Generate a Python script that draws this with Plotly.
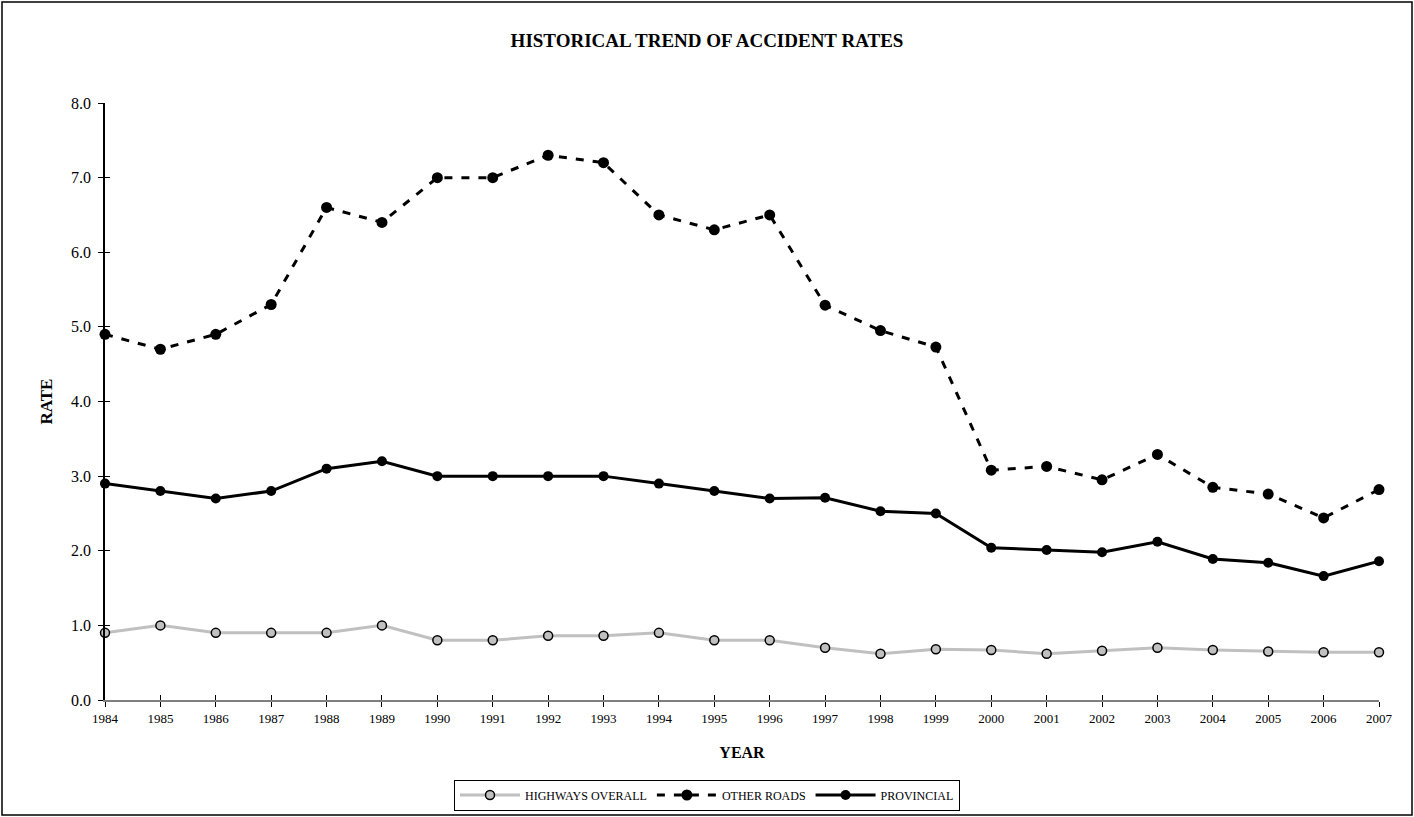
import plotly.graph_objects as go

years = list(range(1984, 2008))
highways_overall = [0.90, 1.00, 0.90, 0.90, 0.90, 1.00, 0.80, 0.80, 0.86, 0.86, 0.90, 0.80,
                    0.80, 0.70, 0.62, 0.68, 0.67, 0.62, 0.66, 0.70, 0.67, 0.65, 0.64, 0.64]
other_roads = [4.9, 4.7, 4.9, 5.3, 6.6, 6.4, 7.0, 7.0, 7.3, 7.2, 6.5, 6.3,
               6.5, 5.29, 4.95, 4.73, 3.08, 3.13, 2.95, 3.29, 2.85, 2.76, 2.44, 2.82]
provincial = [2.9, 2.8, 2.7, 2.8, 3.1, 3.2, 3.0, 3.0, 3.0, 3.0, 2.9, 2.8,
              2.7, 2.71, 2.53, 2.50, 2.04, 2.01, 1.98, 2.12, 1.89, 1.84, 1.66, 1.86]
y_ticks = [0, 1, 2, 3, 4, 5, 6, 7, 8]

FONT = "Liberation Serif, Times New Roman, serif"

fig = go.Figure()
fig.add_trace(go.Scatter(
    x=years, y=highways_overall, name="HIGHWAYS OVERALL", mode="lines+markers",
    line=dict(color="#c0c0c0", width=3),
    marker=dict(size=9, color="#c0c0c0", line=dict(color="black", width=1.5)),
    cliponaxis=False))
fig.add_trace(go.Scatter(
    x=years, y=other_roads, name="OTHER ROADS", mode="lines+markers",
    line=dict(color="black", width=3, dash="8px,9px"),
    marker=dict(size=11, color="black"),
    cliponaxis=False))
fig.add_trace(go.Scatter(
    x=years, y=provincial, name="PROVINCIAL", mode="lines+markers",
    line=dict(color="black", width=3),
    marker=dict(size=10, color="black"),
    cliponaxis=False))
# invisible helper trace so the overlay axes (inner half of the crossing ticks) are drawn
fig.add_trace(go.Scatter(x=years, y=provincial, mode="none", showlegend=False,
                         hoverinfo="skip", xaxis="x2", yaxis="y2"))

fig.update_layout(
    width=1414, height=817,
    paper_bgcolor="white", plot_bgcolor="white",
    margin=dict(l=105, r=35, t=103, b=117, autoexpand=False),
    font=dict(family=FONT, size=12, color="black"),
    title=dict(text="<b>HISTORICAL TREND OF ACCIDENT RATES</b>", x=0.5, xanchor="center",
               y=1 - 40 / 817, yanchor="middle", font=dict(family=FONT, size=19, color="black")),
    xaxis=dict(range=[1984, 2007], tickmode="array", tickvals=years, ticktext=[str(y) for y in years],
               showgrid=False, zeroline=False, showline=True, linecolor="#7f7f7f", linewidth=2,
               ticks="outside", ticklen=5, tickcolor="black", tickwidth=1, automargin=False,
               tickfont=dict(family=FONT, size=13, color="black"),
               title=dict(text="<b>YEAR</b>", font=dict(family=FONT, size=16, color="black"), standoff=22)),
    yaxis=dict(range=[0, 8], tickmode="array", tickvals=y_ticks, tickformat=".1f",
               showgrid=False, zeroline=False, showline=True, linecolor="black", linewidth=1.5,
               ticks="outside", ticklen=5, tickcolor="black", tickwidth=1, ticklabelstandoff=4,
               automargin=False,
               tickfont=dict(family=FONT, size=16, color="black"),
               title=dict(text="<b>RATE</b>", font=dict(family=FONT, size=17, color="black"), standoff=14)),
    xaxis2=dict(overlaying="x", matches="x", range=[1984, 2007], tickmode="array", tickvals=years,
                showticklabels=False, showgrid=False, zeroline=False, showline=False,
                ticks="inside", ticklen=5, tickcolor="black", tickwidth=1, side="bottom"),
    yaxis2=dict(overlaying="y", matches="y", range=[0, 8], tickmode="array", tickvals=y_ticks,
                showticklabels=False, showgrid=False, zeroline=False, showline=False,
                ticks="inside", ticklen=5, tickcolor="black", tickwidth=1, side="left"),
    legend=dict(orientation="h", x=(707 - 105) / 1274, xanchor="center",
                y=(700 - 795) / 597, yanchor="middle",
                bordercolor="black", borderwidth=1, bgcolor="white",
                font=dict(family=FONT, size=12, color="black"),
                itemwidth=60, tracegroupgap=0),
    showlegend=True,
    shapes=[dict(type="rect", xref="paper", yref="paper",
                 x0=(2 - 105) / 1274, x1=(1412 - 105) / 1274,
                 y0=(700 - 815) / 597, y1=(700 - 2) / 597,
                 line=dict(color="black", width=1.5), fillcolor="rgba(0,0,0,0)", layer="below")],
)

fig.write_html("out.html", config={"displayModeBar": False},
               post_script="document.body.style.margin='0';document.body.style.padding='0';")
